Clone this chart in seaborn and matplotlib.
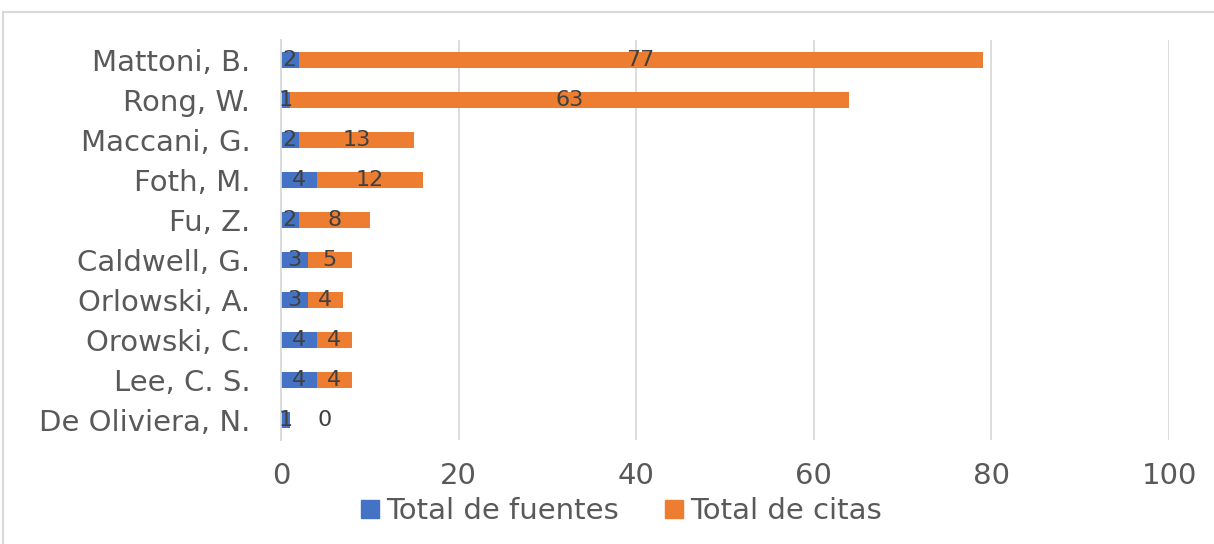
import pandas as pd
import matplotlib.pyplot as plt
import seaborn as sns
from matplotlib.patches import Rectangle, Patch

autores = ["Mattoni, B.", "Rong, W.", "Maccani, G.", "Foth, M.", "Fu, Z.",
           "Caldwell, G.", "Orlowski, A.", "Orowski, C.", "Lee, C. S.", "De Oliviera, N."]
fuentes = [2, 1, 2, 4, 2, 3, 3, 4, 4, 1]
citas = [77, 63, 13, 12, 8, 5, 4, 4, 4, 0]

df = pd.DataFrame({"autor": autores, "fuentes": fuentes, "citas": citas})
df["total"] = df["fuentes"] + df["citas"]

azul = "#4472C4"
naranja = "#ED7D31"

sns.set_style("white")
fig = plt.figure(figsize=(12.14, 5.44), dpi=100)
ax = fig.add_axes([0.2315, 0.191, 0.7315, 0.735])

# stacked bars: total in orange, then fuentes over it in blue
sns.barplot(data=df, y="autor", x="total", color=naranja, width=0.4, ax=ax,
            saturation=1, linewidth=0)
sns.barplot(data=df, y="autor", x="fuentes", color=azul, width=0.4, ax=ax,
            saturation=1, linewidth=0)

# data labels
for i, row in df.iterrows():
    ax.text(row["fuentes"] / 2, i, str(row["fuentes"]), ha="center", va="center",
            fontsize=16, color="#404040")
    if row["citas"] > 0:
        ax.text(row["fuentes"] + row["citas"] / 2, i, str(row["citas"]), ha="center",
                va="center", fontsize=16, color="#404040")
    else:
        ax.annotate(str(row["citas"]), (row["total"], i), xytext=(25, 0),
                    textcoords="offset points", ha="center", va="center",
                    fontsize=16, color="#404040")

ax.set_xlim(0, 100)
ax.set_ylim(9.5, -0.5)
ax.set_xticks([0, 20, 40, 60, 80, 100])
ax.grid(axis="x", color="#d9d9d9", linewidth=1.3)
ax.set_axisbelow(True)
for s in ["top", "right", "bottom"]:
    ax.spines[s].set_visible(False)
ax.spines["left"].set_color("#d9d9d9")
ax.spines["left"].set_linewidth(1.3)
ax.set_xlabel("")
ax.set_ylabel("")
ax.tick_params(axis="both", length=0, labelsize=21, labelcolor="#595959")
ax.tick_params(axis="x", pad=16)
ax.tick_params(axis="y", pad=22)

handles = [Patch(color=azul, label="Total de fuentes"), Patch(color=naranja, label="Total de citas")]
leg = fig.legend(handles=handles, loc="center", bbox_to_anchor=(0.512, 0.06), ncol=2,
                 frameon=False, fontsize=21, handlelength=0.6, handleheight=0.6,
                 handletextpad=0.25, columnspacing=1.6)
for t in leg.get_texts():
    t.set_color("#595959")

# chart frame
fig.patches.append(Rectangle((3 / 1214, -0.1), 1.2, 1.1 - 12 / 544, transform=fig.transFigure,
                             fill=False, edgecolor="#d9d9d9", linewidth=1.5))

fig.savefig("out.png", dpi=100)
